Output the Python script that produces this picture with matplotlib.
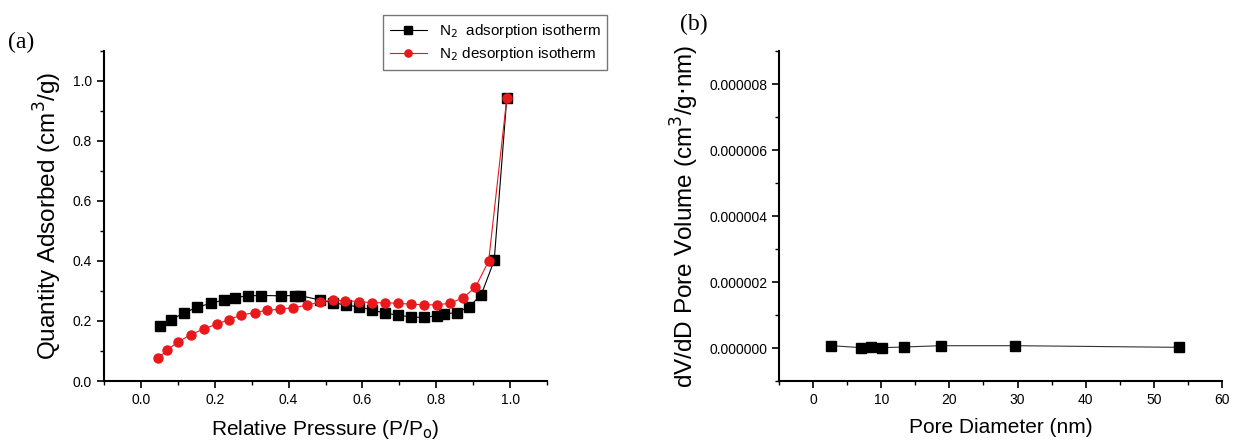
import numpy as np
import matplotlib
matplotlib.use('Agg')
import matplotlib.pyplot as plt
from matplotlib.ticker import MultipleLocator, FormatStrFormatter

plt.rcParams['font.family'] = ['Liberation Sans', 'DejaVu Sans']

# (a) N2 isotherm
ads_p = [0.053, 0.082, 0.118, 0.153, 0.189, 0.224, 0.255, 0.290, 0.326, 0.380,
         0.417, 0.430, 0.485, 0.521, 0.556, 0.592, 0.626, 0.661, 0.697, 0.732,
         0.768, 0.802, 0.820, 0.855, 0.889, 0.922, 0.957, 0.991]
ads_q = [0.184, 0.204, 0.228, 0.246, 0.259, 0.270, 0.278, 0.284, 0.285, 0.284,
         0.285, 0.285, 0.270, 0.260, 0.254, 0.246, 0.237, 0.226, 0.220, 0.213,
         0.212, 0.218, 0.223, 0.228, 0.247, 0.288, 0.402, 0.942]
des_p = [0.047, 0.071, 0.100, 0.135, 0.170, 0.205, 0.239, 0.272, 0.308, 0.342,
         0.377, 0.413, 0.449, 0.484, 0.519, 0.554, 0.590, 0.625, 0.660, 0.696,
         0.731, 0.766, 0.801, 0.837, 0.872, 0.906, 0.942, 0.991]
des_q = [0.076, 0.103, 0.130, 0.154, 0.174, 0.189, 0.205, 0.220, 0.228, 0.236,
         0.239, 0.245, 0.252, 0.264, 0.269, 0.268, 0.265, 0.261, 0.261, 0.259,
         0.256, 0.254, 0.254, 0.259, 0.277, 0.312, 0.400, 0.942]

# (b) pore size distribution
pore_d = [2.7, 7.1, 8.5, 10.1, 13.3, 18.7, 29.6, 53.7]
pore_v = [7e-8, 1e-8, 3e-8, 1e-8, 3e-8, 7e-8, 7e-8, 2e-8]

fig = plt.figure(figsize=(12.38, 4.44), dpi=100)
W, H = 1238, 444
ax1 = fig.add_axes([104 / W, (H - 381) / H, 443 / W, 330 / H])
ax2 = fig.add_axes([779 / W, (H - 381) / H, 443 / W, 330 / H])


def style(ax):
    for s in ['top', 'right']:
        ax.spines[s].set_visible(False)
    for s in ['left', 'bottom']:
        ax.spines[s].set_linewidth(1.5)
    ax.tick_params(which='major', direction='out', length=5, width=1.2, labelsize=10)
    ax.tick_params(which='minor', direction='out', length=3, width=1.0)


ax1.plot(ads_p, ads_q, color='black', lw=0.8, marker='s', ms=6.5,
         label='N$_2$  adsorption isotherm')
ax1.plot(des_p, des_q, color='#e8191c', lw=0.8, marker='o', ms=6.5,
         label='N$_2$ desorption isotherm')
ax1.set_xlim(-0.1, 1.1)
ax1.set_ylim(0, 1.1)
ax1.xaxis.set_major_locator(MultipleLocator(0.2))
ax1.xaxis.set_minor_locator(MultipleLocator(0.1))
ax1.yaxis.set_major_locator(MultipleLocator(0.2))
ax1.yaxis.set_minor_locator(MultipleLocator(0.1))
ax1.xaxis.set_major_formatter(FormatStrFormatter('%.1f'))
ax1.yaxis.set_major_formatter(FormatStrFormatter('%.1f'))
style(ax1)
ax1.set_xlabel('Relative Pressure (P/P$_\\mathrm{o}$)', fontsize=15, labelpad=8)
ax1.set_ylabel('Quantity Adsorbed (cm$^3$/g)', fontsize=17.5, labelpad=6)
ax1.legend(loc='upper left', bbox_to_anchor=(383 / W, 1 - 15 / H),
           bbox_transform=fig.transFigure, fontsize=11, frameon=True,
           fancybox=False, edgecolor='#555555', handlelength=2.4,
           borderpad=0.45, labelspacing=0.35, borderaxespad=0, markerscale=0.8)

ax2.plot(pore_d, pore_v, color='#333333', lw=0.8, marker='s', ms=6.5,
         mfc='black', mec='black')
ax2.set_xlim(-5, 60)
ax2.set_ylim(-1e-6, 9e-6)
ax2.xaxis.set_major_locator(MultipleLocator(10))
ax2.xaxis.set_minor_locator(MultipleLocator(5))
ax2.yaxis.set_major_locator(MultipleLocator(2e-6))
ax2.yaxis.set_minor_locator(MultipleLocator(1e-6))
ax2.yaxis.set_major_formatter(FormatStrFormatter('%.6f'))
style(ax2)
ax2.set_xlabel('Pore Diameter (nm)', fontsize=15, labelpad=8)
ax2.set_ylabel('dV/dD Pore Volume (cm$^3$/g$\\cdot$nm)', fontsize=17.5, labelpad=6)

fig.text(8 / W, 1 - 48 / H, '(a)', fontsize=17, family='Liberation Serif')
fig.text(680 / W, 1 - 30 / H, '(b)', fontsize=17, family='Liberation Serif')

fig.savefig('out.png', dpi=100)
